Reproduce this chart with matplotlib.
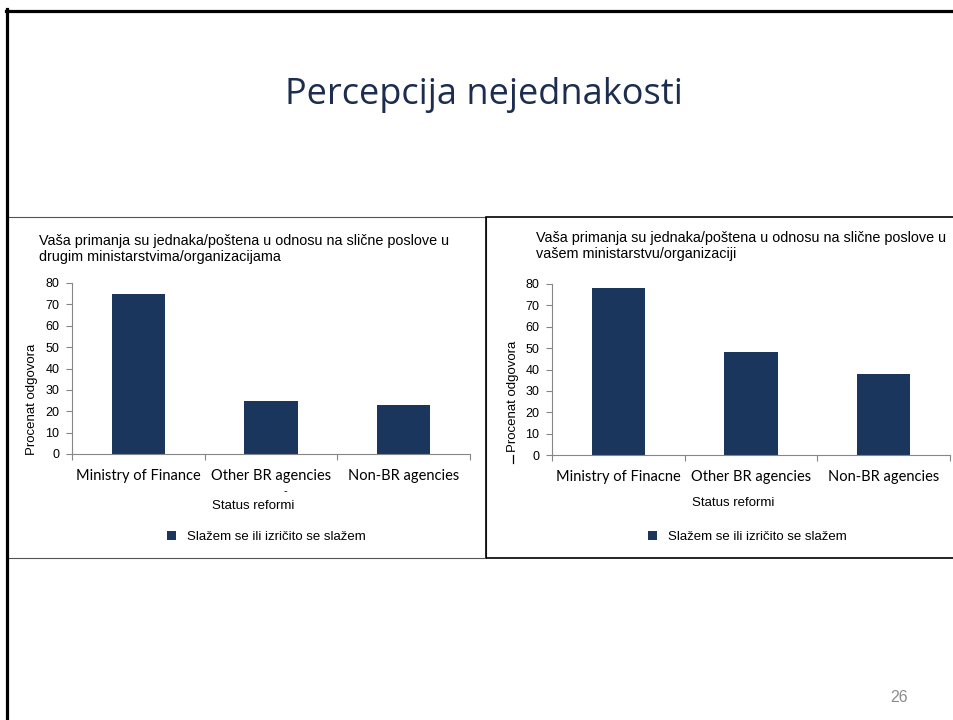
import matplotlib
matplotlib.use('Agg')
import matplotlib.pyplot as plt
from matplotlib.lines import Line2D
from matplotlib.patches import Rectangle

# data
slide_title = 'Percepcija nejednakosti'
left_title = 'Vaša primanja su jednaka/poštena u odnosu na slične poslove u\ndrugim ministarstvima/organizacijama'
right_title = 'Vaša primanja su jednaka/poštena u odnosu na slične poslove u\nvašem ministarstvu/organizaciji'
left_cats = ['Ministry of Finance', 'Other BR agencies', 'Non-BR agencies']
right_cats = ['Ministry of Finacne', 'Other BR agencies', 'Non-BR agencies']
left_vals = [75, 25, 23]
right_vals = [78, 48, 38]
series_name = 'Slažem se ili izričito se slažem'
x_label = 'Status reformi'
y_label = 'Procenat odgovora'
y_ticks = [0, 10, 20, 30, 40, 50, 60, 70, 80]
page_no = '26'

W, H = 954, 720
bar_color = '#1b365d'
axis_grey = '#868686'
arial = 'Liberation Sans'
cat_font = 'Lato'

fig = plt.figure(figsize=(W / 100, H / 100), dpi=100)


def fx(px):
    return px / W


def fy(py):
    return 1 - py / H


# slide frame (top and left edges only are visible)
fig.add_artist(Line2D([fx(6), 1], [fy(10.5), fy(10.5)], color='black', lw=2.3))
fig.add_artist(Line2D([fx(7.5), fx(7.5)], [fy(9), 0], color='black', lw=2.3))

fig.text(fx(484), fy(104), slide_title, ha='center', va='baseline',
         fontsize=26, color='#1c2d4f', family='Open Sans')

# panel boxes
fig.add_artist(Rectangle((fx(7.5), fy(558)), fx(486 - 7.5), fy(217) - fy(558),
                         fill=False, ec='#555555', lw=0.8))
fig.add_artist(Rectangle((fx(486), fy(558)), fx(W + 5 - 486), fy(217) - fy(558),
                         fill=False, ec='black', lw=1.2, clip_on=False))


def draw_panel(ax_left, ax_top, title, cats, vals, title_x, title_y,
               ylab_x, ylab_y, label_y, legend_x):
    ax = fig.add_axes([fx(ax_left), fy(ax_top + 171), fx(398), 171 / H])
    pos = list(range(len(cats)))
    bars = ax.bar(pos, vals, width=0.4, color=bar_color, label=series_name)
    ax.set_xlim(-0.5, len(cats) - 0.5)
    ax.set_ylim(0, 80)
    ax.set_yticks(y_ticks)
    ax.set_xticks(pos)
    ax.set_xticklabels(cats, family=cat_font, fontsize=10.5)
    ax.set_xticks([p - 0.5 for p in pos] + [len(cats) - 0.5], minor=True)
    ax.tick_params(axis='x', which='major', length=0, pad=11)
    ax.tick_params(axis='x', which='minor', length=4, color=axis_grey, width=0.8)
    ax.tick_params(axis='y', length=4, color=axis_grey, width=0.8, labelsize=9, pad=5)
    for lab in ax.get_yticklabels():
        lab.set_family(arial)
    for s in ['top', 'right']:
        ax.spines[s].set_visible(False)
    for s in ['left', 'bottom']:
        ax.spines[s].set_color(axis_grey)
        ax.spines[s].set_linewidth(0.8)

    fig.text(fx(title_x), fy(title_y), title, ha='left', va='top',
             fontsize=10.4, family=arial, linespacing=1.15)
    fig.text(fx(ylab_x), fy(ylab_y), y_label, rotation=90, ha='center', va='center',
             fontsize=9.5, family=arial)
    fig.text(fx(ax_left + 199 - 18), fy(label_y), x_label, ha='center', va='center',
             fontsize=9.5, family=arial)
    fig.legend(handles=[bars], loc='center', bbox_to_anchor=(fx(legend_x), fy(537)),
               frameon=False, prop={'family': arial, 'size': 9.5},
               handlelength=0.7, handleheight=0.7, handletextpad=0.8)
    return ax


draw_panel(72, 283, left_title, left_cats, left_vals, 39, 234,
           32, 399, 506, 266)
draw_panel(552, 284, right_title, right_cats, right_vals, 536, 231,
           513, 396, 503, 747)

# stray marks copied from the slide
fig.text(fx(285), fy(491), '-', ha='center', va='center', fontsize=8, family=arial)
fig.add_artist(Line2D([fx(513), fx(513)], [fy(455), fy(463)], color='black', lw=0.9))

fig.text(fx(899), fy(697), page_no, ha='center', va='center',
         fontsize=11.5, color='#8c8c8c', family=arial)

fig.savefig('out.png', dpi=100)
